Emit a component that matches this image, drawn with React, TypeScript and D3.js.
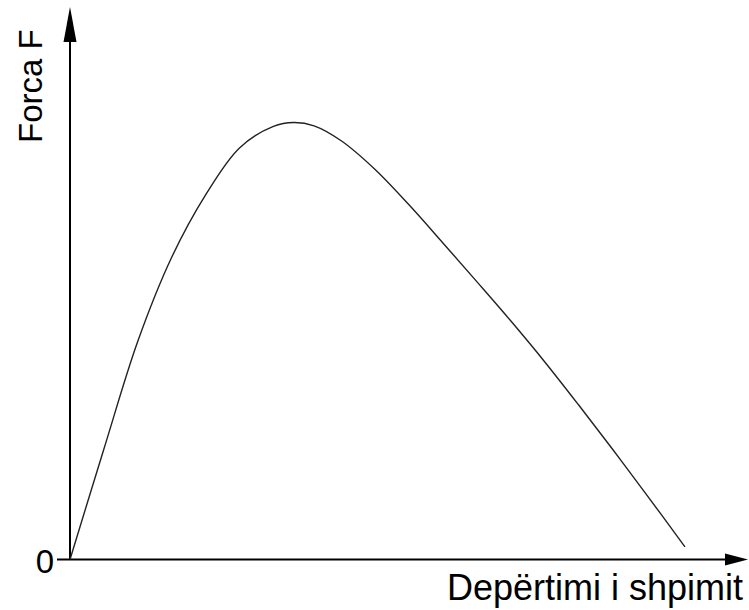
import React from "react";
import * as d3 from "d3";

// Force vs. penetration curve (arbitrary units, 0–100 on both axes)
const penetration = [0, 5, 10, 15, 20, 25, 30, 33, 36, 40, 45, 50, 55, 60, 65, 70, 75, 80, 85, 90.7];
const force = [0, 20, 39.5, 54.7, 66, 74.5, 78.4, 79.1, 78.5, 75.8, 70.6, 64.2, 57.3, 50.3, 43.2, 35.8, 28.0, 20.0, 11.8, 2.3];

const yTickLabels = ["0"];
const xTitle = "Depërtimi i shpimit";
const yTitle = "Forca F";

const W = 749;
const H = 610;

export default function App() {
  const x = d3.scaleLinear().domain([0, 100]).range([70, 748]);
  const y = d3.scaleLinear().domain([0, 100]).range([559.5, 7]);

  const points: [number, number][] = penetration.map((p, i) => [p, force[i]]);
  const line = d3
    .line<[number, number]>()
    .x((d) => x(d[0]))
    .y((d) => y(d[1]))
    .curve(d3.curveCatmullRom.alpha(0.5));

  const x0 = x(0);
  const y0 = y(0);
  const xEnd = x.range()[1];
  const yEnd = y.range()[1];
  const font = "'Liberation Sans', Arial, sans-serif";

  return (
    <svg width={W} height={H} style={{ position: "absolute", left: 0, top: 0, background: "#fff" }}>
      <rect width={W} height={H} fill="#fff" />
      {/* axes */}
      <line x1={x0} y1={y0} x2={x0} y2={yEnd + 30} stroke="#000" strokeWidth={2} />
      <line x1={x0 - 13} y1={y0} x2={xEnd - 20} y2={y0} stroke="#000" strokeWidth={2} />
      <polygon points={`${x0},${yEnd} ${x0 - 6.5},${yEnd + 35} ${x0 + 6.5},${yEnd + 35}`} fill="#000" />
      <polygon points={`${xEnd},${y0} ${xEnd - 23},${y0 - 6} ${xEnd - 23},${y0 + 6}`} fill="#000" />

      {/* curve */}
      <path d={line(points) ?? ""} fill="none" stroke="#222" strokeWidth={1.4} />

      {/* labels */}
      {yTickLabels.map((t) => (
        <text key={t} x={x0 - 16} y={y0 + 13} textAnchor="end" fontFamily={font} fontSize={33} fill="#000">
          {t}
        </text>
      ))}
      <text x={743} y={600} textAnchor="end" fontFamily={font} fontSize={36} fill="#000">
        {xTitle}
      </text>
      <text
        transform={`translate(42,143) rotate(-90)`}
        textAnchor="start"
        fontFamily={font}
        fontSize={33}
        fill="#000"
      >
        {yTitle}
      </text>
    </svg>
  );
}
